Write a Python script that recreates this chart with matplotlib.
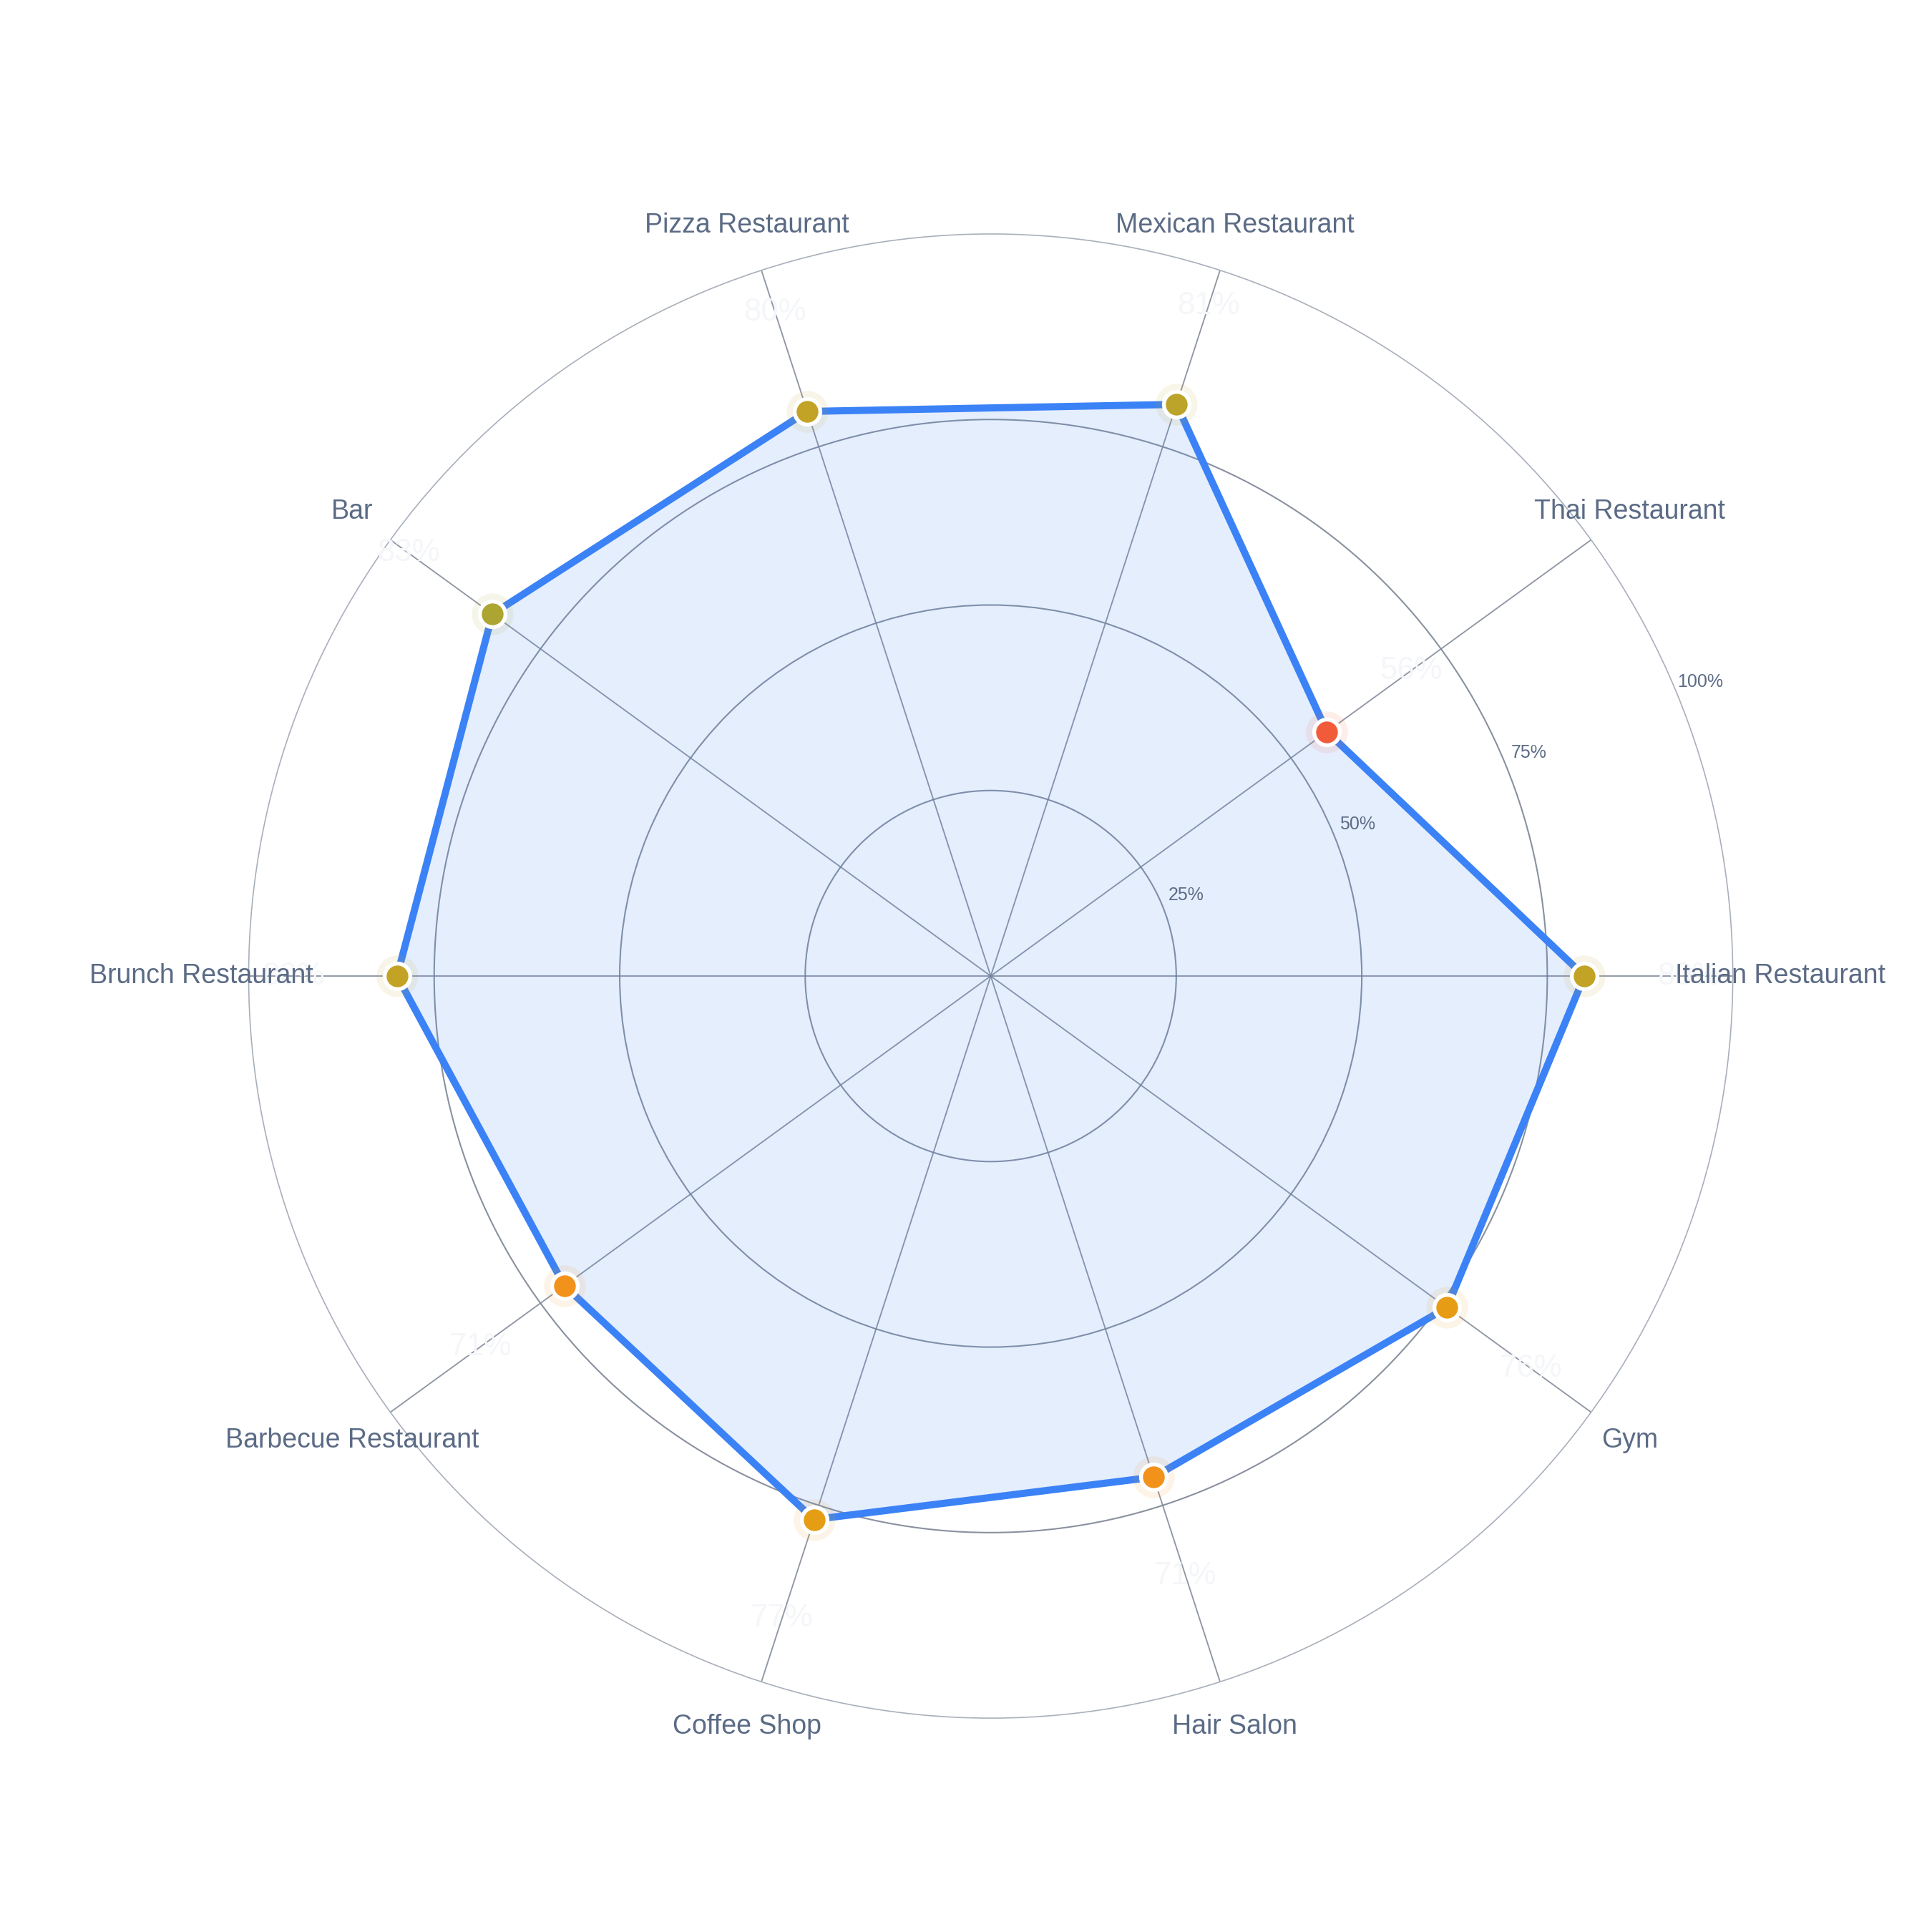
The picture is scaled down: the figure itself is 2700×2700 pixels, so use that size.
import numpy as np
import matplotlib
matplotlib.use('Agg')
import matplotlib.pyplot as plt
from matplotlib.colors import LinearSegmentedColormap, Normalize

plt.rcParams['font.family'] = ['Liberation Sans', 'DejaVu Sans']

categories = ['Italian Restaurant', 'Thai Restaurant', 'Mexican Restaurant',
              'Pizza Restaurant', 'Bar', 'Brunch Restaurant',
              'Barbecue Restaurant', 'Coffee Shop', 'Hair Salon', 'Gym']
values = [80, 56, 81, 80, 83, 80, 71, 77, 71, 76]
r_ticks = [25, 50, 75, 100]
r_tick_labels = ['25%', '50%', '75%', '100%']

LINE = '#3b82f6'
TEXT = '#5b6b85'
GRID = '#7c8594'

# marker colour scale: low = red, mid = orange, high = olive gold
score_cmap = LinearSegmentedColormap.from_list('score', [
    (0.00, '#f0553b'), (0.15, '#f25b3a'), (0.525, '#f2921a'),
    (0.675, '#e59e14'), (0.75, '#c4a326'), (0.825, '#ada532'),
    (1.00, '#98a53a')])
norm = Normalize(50, 90)

n = len(categories)
theta = np.arange(n) * 2 * np.pi / n
th_closed = np.append(theta, theta[0])
v_closed = np.append(values, values[0])

fig = plt.figure(figsize=(9, 9), dpi=300)
cx, cy, R = 0.5128, 0.4948, 0.3841
ax = fig.add_axes([cx - R, cy - R, 2 * R, 2 * R], projection='polar')
ax.set_ylim(0, 100)

ax.set_xticks(theta)
ax.set_xticklabels([])
ax.set_yticks(r_ticks[:-1])
ax.set_yticklabels([])
ax.tick_params(length=0)
ax.xaxis.grid(True, color=GRID, lw=0.45, alpha=0.85)
ax.yaxis.grid(True, color=GRID, lw=0.5, alpha=0.9)
ax.spines['polar'].set_color('#a9b0bb')
ax.spines['polar'].set_linewidth(0.4)

ax.fill(th_closed, v_closed, color=LINE, alpha=0.13, lw=0, zorder=2)
ax.plot(th_closed, v_closed, color=LINE, lw=2.4, zorder=3,
        solid_joinstyle='miter')

cols = [score_cmap(norm(v)) for v in values]
for t, v, c in zip(theta, values, cols):
    ax.plot(t, v, 'o', ms=14, color=c, alpha=0.1, mew=0, zorder=4)
    ax.plot(t, v, 'o', ms=8.6, color=c, mec='white', mew=1.3, zorder=5)
    ax.text(t, v + 14, f'{v}%', ha='center', va='center', fontsize=10.5,
            color='#f5f6f9', zorder=6, clip_on=False)

for t, lab in zip(theta, categories):
    ax.text(t, 106.4, lab, ha='center', va='center', fontsize=9.0,
            color=TEXT, clip_on=False, zorder=7)

for r, lab in zip(r_ticks, r_tick_labels):
    ax.text(np.deg2rad(22.5), r + 3.5, lab, ha='center', va='center',
            fontsize=6, color=TEXT, clip_on=False, zorder=7)

fig.savefig('out.png', dpi=300, facecolor='white')
